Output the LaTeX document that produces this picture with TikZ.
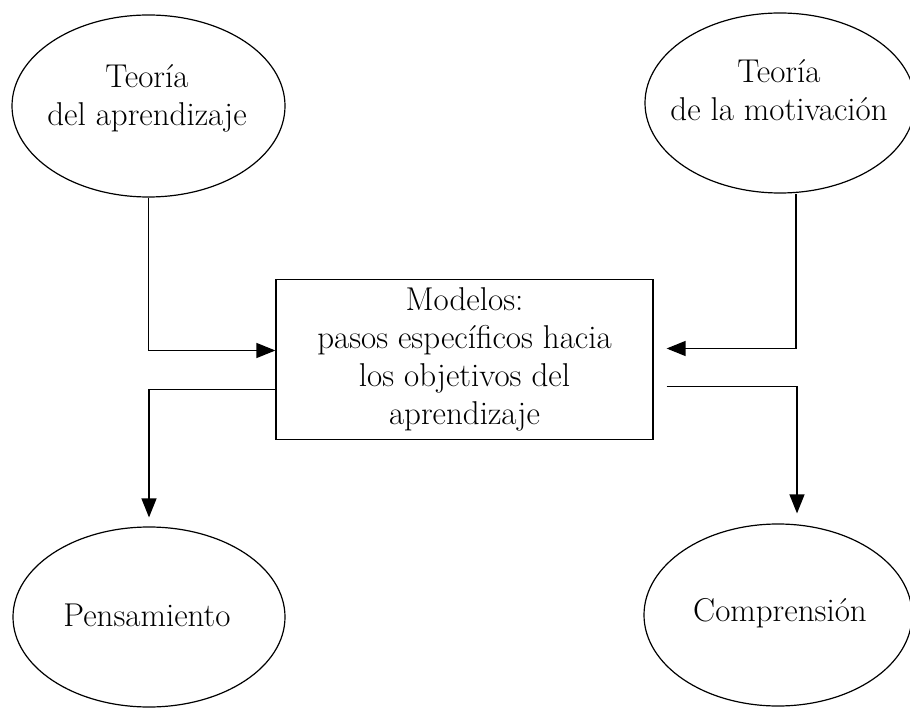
\documentclass[tikz,border=0pt]{standalone}
\usepackage{fontspec}
\usetikzlibrary{shapes.geometric,arrows.meta}
\begin{document}
\begin{tikzpicture}[x=1pt,y=-1pt,
  ell/.style={draw, ellipse, line width=1.2pt, inner sep=0pt},
  box/.style={draw, rectangle, line width=1.2pt, align=center, inner sep=0pt,
              minimum width=377pt, minimum height=160pt},
  lbl/.style={align=center, inner sep=0pt},
  conn/.style={line width=1.3pt, -{Triangle[length=19pt,width=15pt]}},
  font=\fontsize{33}{38}\selectfont]
\useasboundingbox (0,0) rectangle (910,708);

% ellipses
\node[ell, minimum width=273pt, minimum height=182pt] (tl) at (148.5,106) {};
\node[ell, minimum width=270pt, minimum height=180pt] (tr) at (780,103) {};
\node[ell, minimum width=272pt, minimum height=180pt] (bl) at (149,617) {};
\node[ell, minimum width=268pt, minimum height=182pt] (br) at (778,615) {};

% texts
\node[lbl] (tlt) at (147,98) {Teoría\\del aprendizaje};
\node[lbl] (trt) at (779,89.8) {Teoría\\de la motivación};
\node[lbl, anchor=base] (blt) at (147,626) {Pensamiento};
\node[lbl, anchor=base] (brt) at (780,621) {Comprensión};

% central box
\node[box] (m) at (464.5,359.5) {Modelos:\\pasos específicos hacia\\los objetivos del\\aprendizaje};

% connectors
\draw[conn] (tl.south) |- ([yshift=9pt]m.west);
\draw[conn, shorten >=13pt] ([xshift=16pt]tr.south) |- ([yshift=11pt]m.east);
\draw[conn, shorten >=9pt] ([yshift=-30pt]m.west) -| (bl.north);
\draw[conn, shorten >=10pt] ([xshift=13pt,yshift=-27pt]m.east) -| ([xshift=19pt]br.north);
\end{tikzpicture}
\end{document}
